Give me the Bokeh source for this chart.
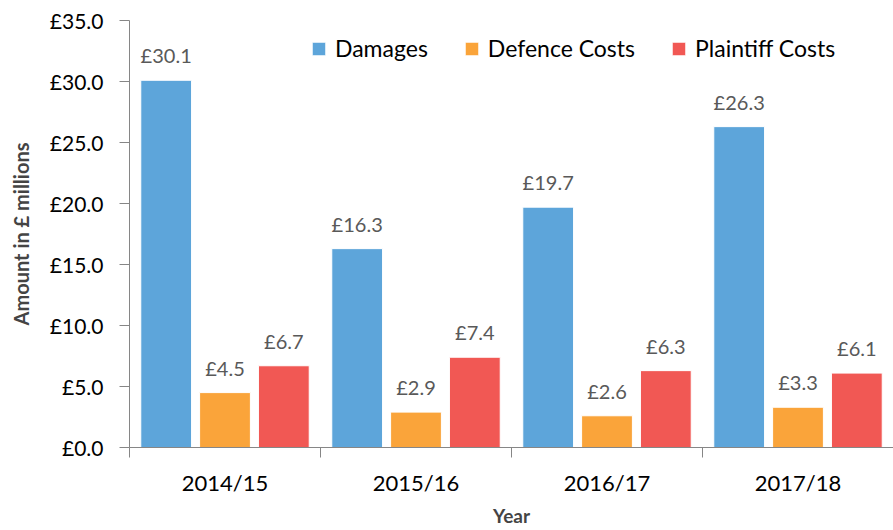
from bokeh.plotting import figure
from bokeh.models import (ColumnDataSource, Range1d, FixedTicker, PrintfTickFormatter,
                          Legend, LegendItem, LabelSet)
from bokeh.core.properties import value
from bokeh.transform import dodge
from bokeh.embed import file_html
from bokeh.resources import INLINE

years = ["2014/15", "2015/16", "2016/17", "2017/18"]
damages = [30.1, 16.3, 19.7, 26.3]
defence = [4.5, 2.9, 2.6, 3.3]
plaintiff = [6.7, 7.4, 6.3, 6.1]
series_names = ["Damages", "Defence Costs", "Plaintiff Costs"]
colors = ["#5DA5DA", "#FAA43A", "#F15854"]
y_ticks = [0, 5, 10, 15, 20, 25, 30, 35]

FONT = "Lato"

x_centers = [i + 0.5 for i in range(len(years))]
src = ColumnDataSource(dict(
    x=x_centers,
    damages=damages, defence=defence, plaintiff=plaintiff,
    damages_lbl=["£%.1f" % v for v in damages],
    defence_lbl=["£%.1f" % v for v in defence],
    plaintiff_lbl=["£%.1f" % v for v in plaintiff],
))

p = figure(width=893, height=530, output_backend="svg", toolbar_location=None,
           x_range=Range1d(0, len(years)), y_range=Range1d(0, 35),
           min_border_left=129, min_border_right=0, min_border_top=20, min_border_bottom=83)
p.outline_line_color = None
p.xgrid.grid_line_color = None
p.ygrid.grid_line_color = None

offsets = [-0.308, 0.0, 0.308]
fields = ["damages", "defence", "plaintiff"]
renderers = []
for off, fld, col in zip(offsets, fields, colors):
    r = p.vbar(x=dodge("x", off), top=fld, width=0.266, bottom=0, source=src,
               fill_color=col, line_color="white", line_width=1)
    renderers.append(r)
    lbl = LabelSet(x=dodge("x", off), y=fld, text=fld + "_lbl", source=src,
                   text_align="center", text_baseline="bottom", y_offset=13,
                   text_font=value(FONT), text_font_size="20px", text_color="#595959")
    p.add_layout(lbl)

legend = Legend(items=[LegendItem(label=n, renderers=[r]) for n, r in zip(series_names, renderers)],
                orientation="horizontal", location=(181, 385),
                padding=0, margin=0, spacing=35, label_standoff=8,
                glyph_width=17, glyph_height=17, label_height=24,
                label_text_font=FONT, label_text_font_size="23px", label_text_color="black",
                border_line_color=None, background_fill_alpha=0)
p.add_layout(legend)

# x axis
xa = p.xaxis[0]
xa.ticker = FixedTicker(ticks=x_centers, minor_ticks=list(range(len(years) + 1)))
xa.major_label_overrides = {x: y for x, y in zip(x_centers, years)}
xa.major_tick_in = 0
xa.major_tick_out = 0
xa.minor_tick_in = 0
xa.minor_tick_out = 10
xa.minor_tick_line_color = "#868686"
xa.axis_line_color = "#868686"
xa.major_label_standoff = 11
xa.major_label_text_font = FONT
xa.major_label_text_font_size = "22px"
xa.major_label_text_color = "black"
xa.axis_label = "Year"
xa.axis_label_text_font = FONT
xa.axis_label_text_font_style = "bold"
xa.axis_label_text_font_size = "19px"
xa.axis_label_standoff = 5

ya = p.yaxis[0]
ya.ticker = FixedTicker(ticks=y_ticks, minor_ticks=[])
ya.formatter = PrintfTickFormatter(format="£%.1f")
ya.major_tick_in = 0
ya.major_tick_out = 10
ya.major_tick_line_color = "#868686"
ya.axis_line_color = "#868686"
ya.major_label_standoff = 16
ya.major_label_text_font = FONT
ya.major_label_text_font_size = "21px"
ya.major_label_text_color = "black"
ya.axis_label = "Amount in £ millions"
ya.axis_label_text_font = FONT
ya.axis_label_text_font_style = "bold"
ya.axis_label_text_font_size = "20px"
ya.axis_label_standoff = 14

open("out.html", "w").write(file_html(p, INLINE))
